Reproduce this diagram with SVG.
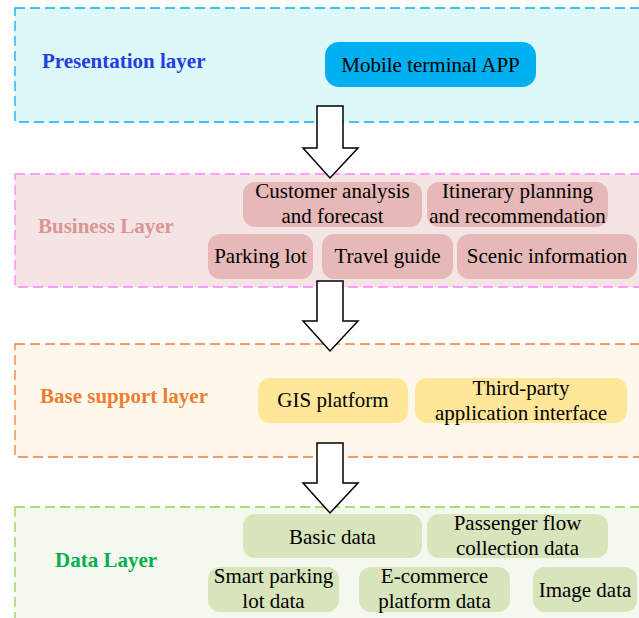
<svg xmlns="http://www.w3.org/2000/svg" width="639" height="618" viewBox="0 0 639 618">
<style>
.band{stroke-width:1.3;stroke-dasharray:10 5}
.lbl{font-family:"Liberation Serif",serif;font-size:21px;font-weight:bold}
.t{font-family:"Liberation Serif",serif;font-size:21px;fill:#000;text-anchor:middle}
.arrow{fill:#fff;stroke:#000;stroke-width:1.5;stroke-linejoin:miter}
</style>
<rect width="639" height="618" fill="#fff"/>
<g id="presentation-layer">
<rect class="band" x="15" y="8" width="640" height="114" fill="#DDF8F8" stroke="#00B0F0"/>
<text class="lbl" x="42" y="68" fill="#1F3FE0">Presentation layer</text>
</g>
<g id="business-layer">
<rect class="band" x="15" y="174" width="640" height="113" fill="#F5E4E4" stroke="#FF80FF"/>
<text class="lbl" x="38" y="233" fill="#D99694">Business Layer</text>
</g>
<g id="base-support-layer">
<rect class="band" x="15" y="344" width="640" height="113" fill="#FEF8EA" stroke="#ED7D31"/>
<text class="lbl" x="40" y="403" fill="#ED7D31">Base support layer</text>
</g>
<g id="data-layer">
<rect class="band" x="15" y="507" width="640" height="130" fill="#F4F8EE" stroke="#92D050"/>
<text class="lbl" x="55" y="567" fill="#00B050">Data Layer</text>
</g>
<g id="mobile-app">
<rect x="325" y="42" width="211" height="45" rx="14" fill="#00B0F0"/>
<text class="t" x="430.5" y="72">Mobile terminal APP</text>
</g>
<g id="customer-analysis">
<rect x="243" y="182" width="179" height="45" rx="12" fill="#E6B8B7"/>
<text class="t" x="332.5" y="198">Customer analysis</text>
<text class="t" x="332.5" y="223">and forecast</text>
</g>
<g id="itinerary-planning">
<rect x="427" y="182" width="181" height="45" rx="12" fill="#E6B8B7"/>
<text class="t" x="517.5" y="198">Itinerary planning</text>
<text class="t" x="517.5" y="223">and recommendation</text>
</g>
<g id="parking-lot">
<rect x="208" y="234" width="105" height="45" rx="12" fill="#E6B8B7"/>
<text class="t" x="260.5" y="263">Parking lot</text>
</g>
<g id="travel-guide">
<rect x="322" y="234" width="131" height="45" rx="12" fill="#E6B8B7"/>
<text class="t" x="387.5" y="263">Travel guide</text>
</g>
<g id="scenic-information">
<rect x="457" y="234" width="180" height="45" rx="12" fill="#E6B8B7"/>
<text class="t" x="547" y="263">Scenic information</text>
</g>
<g id="gis-platform">
<rect x="258" y="378" width="150" height="45" rx="12" fill="#FFE699"/>
<text class="t" x="333" y="407">GIS platform</text>
</g>
<g id="third-party">
<rect x="415" y="378" width="212" height="45" rx="12" fill="#FFE699"/>
<text class="t" x="521" y="395">Third-party</text>
<text class="t" x="521" y="420">application interface</text>
</g>
<g id="basic-data">
<rect x="243" y="514" width="179" height="44" rx="12" fill="#D8E4BC"/>
<text class="t" x="332.5" y="544">Basic data</text>
</g>
<g id="passenger-flow">
<rect x="427" y="514" width="181" height="44" rx="12" fill="#D8E4BC"/>
<text class="t" x="517.5" y="530">Passenger flow</text>
<text class="t" x="517.5" y="555">collection data</text>
</g>
<g id="smart-parking">
<rect x="208" y="567" width="131" height="45" rx="12" fill="#D8E4BC"/>
<text class="t" x="273.5" y="583">Smart parking</text>
<text class="t" x="273.5" y="608">lot data</text>
</g>
<g id="ecommerce">
<rect x="359" y="567" width="151" height="45" rx="12" fill="#D8E4BC"/>
<text class="t" x="434.5" y="583">E-commerce</text>
<text class="t" x="434.5" y="608">platform data</text>
</g>
<g id="image-data">
<rect x="533" y="567" width="104" height="45" rx="12" fill="#D8E4BC"/>
<text class="t" x="585" y="597">Image data</text>
</g>
<g id="connectors">
<polygon class="arrow" points="317,106 343,106 343,148 358,148 330,178 303,148 317,148"/>
<polygon class="arrow" points="317,281 343,281 343,321 358,321 330,351 303,321 317,321"/>
<polygon class="arrow" points="317,443 343,443 343,483 358,483 330,513 303,483 317,483"/>
</g>
</svg>
